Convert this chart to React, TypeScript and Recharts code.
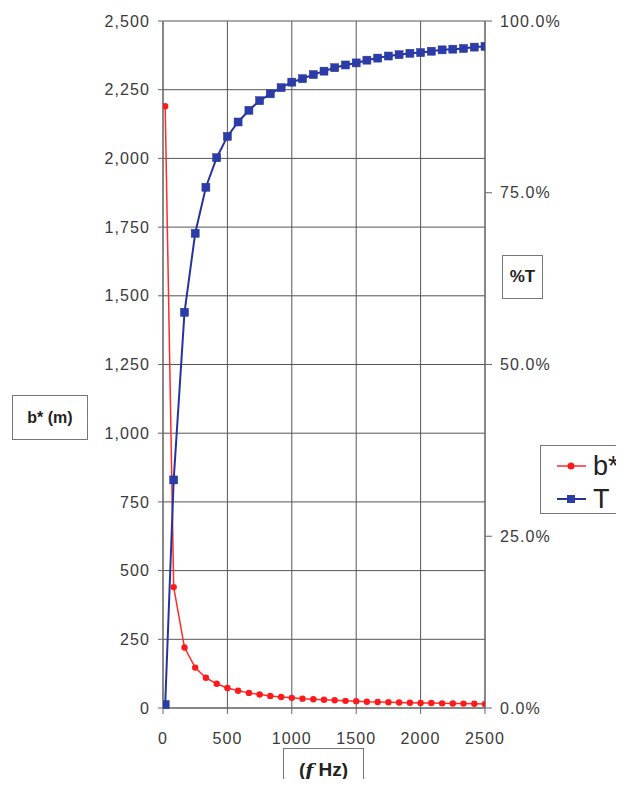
import React, { useEffect } from "react";
import { ComposedChart, Line, XAxis, YAxis, CartesianGrid } from "recharts";

const freqHz = [17, 83, 167, 250, 333, 417, 500, 583, 667, 750, 833, 917, 1000, 1083, 1167, 1250, 1333, 1417, 1500, 1583, 1667, 1750, 1833, 1917, 2000, 2083, 2167, 2250, 2333, 2417, 2500];
const bStar = [2190, 440, 220, 147, 110, 88, 73, 63, 55, 49, 44, 40, 37, 34, 32, 30, 28, 26, 25, 23, 22, 21, 20, 19, 18.5, 18, 17, 16.5, 16, 15.4, 15];
const transPct = [0.5, 33.2, 57.6, 69.1, 75.8, 80.1, 83.2, 85.3, 87.0, 88.4, 89.4, 90.3, 91.1, 91.6, 92.2, 92.7, 93.2, 93.6, 93.9, 94.3, 94.6, 94.9, 95.1, 95.3, 95.4, 95.6, 95.8, 95.9, 96.0, 96.2, 96.3];

const xTicks = [0, 500, 1000, 1500, 2000, 2500];
const leftTicks = [0, 250, 500, 750, 1000, 1250, 1500, 1750, 2000, 2250, 2500];
const rightTicks = [0, 25, 50, 75, 100];

const data = freqHz.map((f, i) => ({ f, b: bStar[i], T: transPct[i] }));

const FONT = "'Liberation Sans', Arial, sans-serif";
const tickStyle = { fontSize: 16, fill: "#3a3a3a", fontFamily: FONT, letterSpacing: 1.1 };

const Square = (props: any) => {
  const { cx, cy } = props;
  if (cx == null || cy == null) return null;
  return <rect x={cx - 4} y={cy - 4} width={8} height={8} fill="#2b3ca8" stroke="#24339a" strokeWidth={0.5} />;
};

const Dot = (props: any) => {
  const { cx, cy } = props;
  if (cx == null || cy == null) return null;
  return <circle cx={cx} cy={cy} r={3.2} fill="#ff1a1a" stroke="none" />;
};

const boxStyle: React.CSSProperties = {
  position: "absolute",
  border: "1px solid #777",
  background: "#fff",
  fontFamily: FONT,
  fontWeight: "bold",
  color: "#222",
  display: "flex",
  alignItems: "center",
  justifyContent: "center",
  boxSizing: "border-box",
};

export default function App() {
  useEffect(() => {
    document.documentElement.style.overflow = "hidden";
    document.body.style.overflow = "hidden";
  }, []);
  return (
    <div style={{ position: "relative", width: 616, height: 779, overflow: "hidden", marginBottom: -8 }}>
      <ComposedChart
        width={616}
        height={779}
        data={data}
        margin={{ top: 13, right: 59, bottom: 39, left: 55 }}
      >
        <CartesianGrid yAxisId="left" stroke="#555" strokeWidth={1} />
        <XAxis
          dataKey="f"
          type="number"
          domain={[0, 2500]}
          ticks={xTicks}
          tickSize={6}
          tickMargin={19}
          height={40}
          stroke="#666"
          tick={tickStyle}
          allowDataOverflow
        />
        <YAxis
          yAxisId="left"
          orientation="left"
          domain={[0, 2500]}
          ticks={leftTicks}
          width={100}
          tickSize={5}
          tickMargin={8}
          stroke="#666"
          tick={tickStyle}
          tickFormatter={(v: number) => v.toLocaleString("en-US")}
        />
        <YAxis
          yAxisId="right"
          orientation="right"
          domain={[0, 100]}
          ticks={rightTicks}
          width={80}
          tickSize={7}
          tickMargin={8}
          stroke="#666"
          tick={tickStyle}
          tickFormatter={(v: number) => v.toFixed(1) + "%"}
        />
        <Line
          yAxisId="left"
          dataKey="b"
          type="linear"
          stroke="#ff2a2a"
          strokeWidth={1.5}
          dot={<Dot />}
          isAnimationActive={false}
        />
        <Line
          yAxisId="right"
          dataKey="T"
          type="linear"
          stroke="#25349c"
          strokeWidth={2}
          dot={<Square />}
          isAnimationActive={false}
        />
      </ComposedChart>

      <div style={{ ...boxStyle, left: 4, top: 387, width: 76, height: 45, fontSize: 16 }}>b* (m)</div>
      <div style={{ ...boxStyle, left: 494, top: 247, width: 41, height: 44, fontSize: 17 }}>%T</div>
      <div style={{ ...boxStyle, left: 275, top: 740, width: 81, height: 60, fontSize: 19, alignItems: "flex-start", paddingTop: 10 }}>
        (<i style={{ fontFamily: "'DejaVu Serif', serif", marginRight: 5 }}>ƒ</i>Hz)
      </div>
      <div
        style={{
          position: "absolute",
          left: 532,
          top: 437,
          width: 84,
          height: 69,
          borderTop: "1px solid #777",
          borderLeft: "1px solid #777",
          borderBottom: "1px solid #777",
          background: "#fff",
          fontFamily: FONT,
          color: "#222",
          boxSizing: "border-box",
        }}
      >
        <svg width={83} height={67} style={{ position: "absolute", left: 0, top: 0 }}>
          <line x1={16} y1={20} x2={45} y2={20} stroke="#ff2a2a" strokeWidth={1.5} />
          <circle cx={30} cy={20} r={3.5} fill="#ff1a1a" />
          <line x1={16} y1={53} x2={45} y2={53} stroke="#25349c" strokeWidth={2} />
          <rect x={26} y={49} width={8} height={8} fill="#2b3ca8" />
          <text x={52} y={29} fontSize={27} fontFamily={FONT} fill="#222">b*</text>
          <text x={52} y={62} fontSize={27} fontFamily={FONT} fill="#222">T</text>
        </svg>
      </div>
    </div>
  );
}
